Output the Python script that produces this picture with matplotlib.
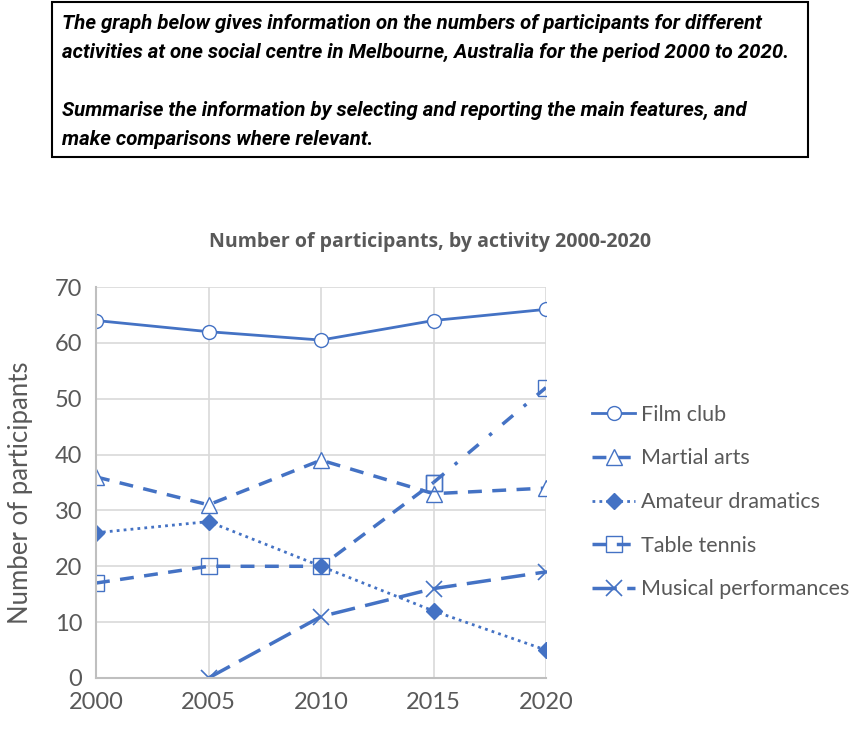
import numpy as np
import matplotlib.pyplot as plt
from matplotlib.patches import Rectangle

years = [2000, 2005, 2010, 2015, 2020]
film_club = [64, 62, 60.5, 64, 66]
martial_arts = [36, 31, 39, 33, 34]
amateur_dramatics = [26, 28, 20, 12, 5]
table_tennis = [17, 20, 20, 35, 52]
musical_years = [2005, 2010, 2015, 2020]
musical = [0, 11, 16, 19]

blue = '#4472C4'
grey = '#595959'

plt.rcParams['font.family'] = ['Lato', 'DejaVu Sans']

fig = plt.figure(figsize=(8.61, 7.42), dpi=100)

# task box at the top
box = Rectangle((52 / 861, 1 - 157 / 742), 756 / 861, 155 / 742, transform=fig.transFigure,
                fill=False, edgecolor='black', linewidth=1.5)
fig.patches.append(box)
task = ("The graph below gives information on the numbers of participants for different\n"
        "activities at one social centre in Melbourne, Australia for the period 2000 to 2020.\n\n"
        "Summarise the information by selecting and reporting the main features, and\n"
        "make comparisons where relevant.")
fig.text(62 / 861, 1 - 14 / 742, task, ha='left', va='top', fontsize=14.7,
         fontweight='bold', fontstyle='italic', linespacing=1.67,
         family=['Roboto', 'DejaVu Sans'])

ax = fig.add_axes([96 / 861, 1 - 678 / 742, 450 / 861, 391 / 742])

ax.plot(years, film_club, color=blue, lw=2, marker='o', ms=10, mfc='white',
        mec=blue, label='Film club')
ax.plot(years, martial_arts, color=blue, lw=2.5, ls=(0, (4, 3)), marker='^', ms=11,
        mfc='white', mec=blue, label='Martial arts')
ax.plot(years, amateur_dramatics, color=blue, lw=2, ls=(0, (1, 1.5)), marker='D', ms=8,
        mfc=blue, mec=blue, label='Amateur dramatics')
ax.plot(years[:4], table_tennis[:4], color=blue, lw=2.5, ls=(0, (4, 3)), marker='s', ms=11,
        mfc='none', mec=blue, label='Table tennis')
ax.plot(years[3:], table_tennis[3:], color=blue, lw=2.5, ls=(0, (4, 4, 1, 4)), marker='s',
        ms=11, mfc='none', mec=blue)
ax.plot(musical_years, musical, color=blue, lw=2.5, ls=(0, (7, 3)), marker='x', ms=11,
        mew=1.2, mec=blue, label='Musical performances')

ax.set_xlim(2000, 2020)
ax.set_ylim(0, 70)
ax.set_xticks(years)
ax.set_yticks(range(0, 71, 10))
ax.grid(True, color='#d9d9d9', lw=1.2)
ax.set_axisbelow(True)
for s in ['top', 'right']:
    ax.spines[s].set_visible(False)
for s in ['left', 'bottom']:
    ax.spines[s].set_color('#bfbfbf')
    ax.spines[s].set_linewidth(1.5)
ax.tick_params(length=0, labelsize=17, colors=grey, pad=10)
ax.set_ylabel('Number of participants', fontsize=18.5, color=grey)
ax.yaxis.set_label_coords(-0.14, 0.475)

fig.text(430 / 861, 1 - 242 / 742, 'Number of participants, by activity 2000-2020',
         ha='center', va='center', fontsize=14, fontweight='bold', color=grey,
         family=['Open Sans', 'DejaVu Sans'])

leg = ax.legend(loc='center left', bbox_to_anchor=(1.06, 0.45), frameon=False,
                labelspacing=1.1, handlelength=2.0, handletextpad=0.25,
                prop={'family': ['Lato', 'DejaVu Sans'], 'size': 15.5})
for t in leg.get_texts():
    t.set_color(grey)

fig.savefig('out.png', dpi=100)
